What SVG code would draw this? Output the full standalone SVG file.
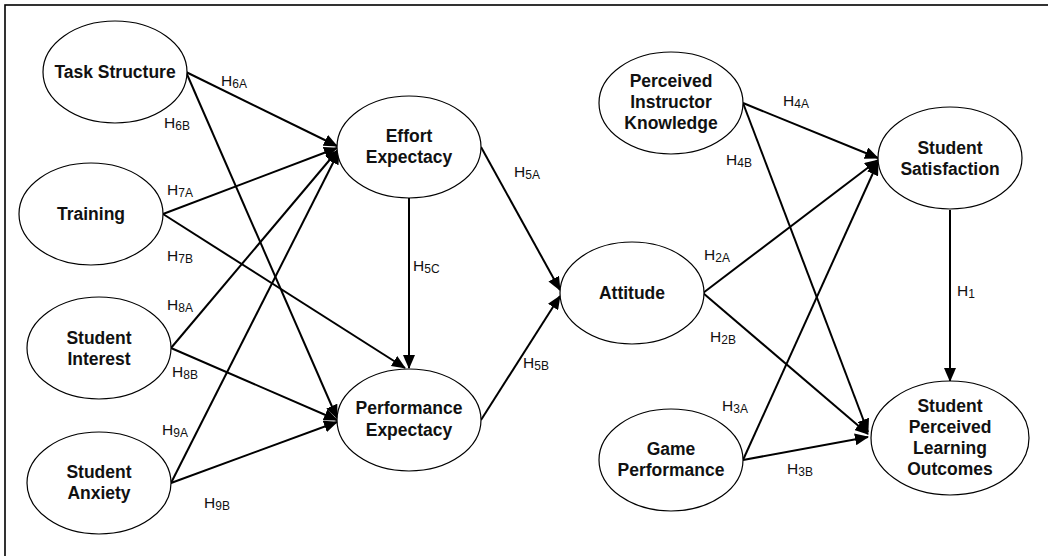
<svg xmlns="http://www.w3.org/2000/svg" width="1048" height="556" viewBox="0 0 1048 556">
<style>
.node ellipse{fill:#fff;stroke:#000;stroke-width:1.2}
.node text{font-family:"Liberation Sans",Arial,sans-serif;font-weight:bold;font-size:17.5px;text-anchor:middle;fill:#111}
.edges line{stroke:#000;stroke-width:2;marker-end:url(#arr)}
.lbl{font-family:"Liberation Sans",Arial,sans-serif;font-size:15.5px;fill:#111}
.lbl tspan.s{font-size:12px}
</style>
<defs>
<marker id="arr" markerUnits="userSpaceOnUse" markerWidth="14" markerHeight="12" viewBox="0 0 14 12" refX="13" refY="6" orient="auto">
<path d="M0,0 L14,6 L0,12 Z" fill="#000"/>
</marker>
</defs>
<rect x="5" y="5" width="1060" height="570" fill="#fff" stroke="#000" stroke-width="1.6"/>
<g class="edges">
<line x1="186" y1="72" x2="337" y2="146"/>
<line x1="186" y1="72" x2="337" y2="418"/>
<line x1="163" y1="214" x2="337" y2="148"/>
<line x1="163" y1="214" x2="405" y2="368"/>
<line x1="171" y1="348" x2="338" y2="150"/>
<line x1="171" y1="348" x2="337" y2="420"/>
<line x1="171" y1="483" x2="339" y2="151"/>
<line x1="171" y1="483" x2="337" y2="422"/>
<line x1="409" y1="198" x2="409" y2="368"/>
<line x1="481" y1="147" x2="560" y2="290"/>
<line x1="481" y1="420" x2="560" y2="296"/>
<line x1="743" y1="103" x2="878" y2="158"/>
<line x1="743" y1="103" x2="868" y2="432"/>
<line x1="703" y1="293" x2="878" y2="160"/>
<line x1="703" y1="293" x2="868" y2="434"/>
<line x1="743" y1="460" x2="878" y2="162"/>
<line x1="743" y1="460" x2="868" y2="437"/>
<line x1="950" y1="210" x2="950" y2="381"/>
</g>
<g id="task-structure" class="node"><ellipse cx="115" cy="72" rx="72" ry="51"/><text x="115" y="78">Task Structure</text></g>
<g id="training" class="node"><ellipse cx="91" cy="214" rx="72" ry="51"/><text x="91" y="220">Training</text></g>
<g id="student-interest" class="node"><ellipse cx="99" cy="348" rx="72" ry="51"/><text x="99" y="344">Student</text><text x="99" y="365">Interest</text></g>
<g id="student-anxiety" class="node"><ellipse cx="99" cy="483" rx="72" ry="51"/><text x="99" y="478">Student</text><text x="99" y="499">Anxiety</text></g>
<g id="effort-expectacy" class="node"><ellipse cx="409" cy="147" rx="72" ry="51"/><text x="409" y="142">Effort</text><text x="409" y="163">Expectacy</text></g>
<g id="performance-expectacy" class="node"><ellipse cx="409" cy="420" rx="72" ry="51"/><text x="409" y="414">Performance</text><text x="409" y="436">Expectacy</text></g>
<g id="attitude" class="node"><ellipse cx="632" cy="293" rx="72" ry="51"/><text x="632" y="299">Attitude</text></g>
<g id="perceived-instructor-knowledge" class="node"><ellipse cx="671" cy="103" rx="72" ry="51"/><text x="671" y="87">Perceived</text><text x="671" y="108">Instructor</text><text x="671" y="129">Knowledge</text></g>
<g id="student-satisfaction" class="node"><ellipse cx="950" cy="158" rx="72" ry="51"/><text x="950" y="154">Student</text><text x="950" y="175">Satisfaction</text></g>
<g id="game-performance" class="node"><ellipse cx="671" cy="460" rx="72" ry="51"/><text x="671" y="455">Game</text><text x="671" y="476">Performance</text></g>
<g id="student-perceived-learning-outcomes" class="node"><ellipse cx="950" cy="438" rx="79" ry="57"/><text x="950" y="412">Student</text><text x="950" y="433">Perceived</text><text x="950" y="454">Learning</text><text x="950" y="475">Outcomes</text></g>
<g id="labels">
<text class="lbl" x="221" y="86">H<tspan class="s" dy="2">6A</tspan></text>
<text class="lbl" x="164" y="128">H<tspan class="s" dy="2">6B</tspan></text>
<text class="lbl" x="167" y="195">H<tspan class="s" dy="2">7A</tspan></text>
<text class="lbl" x="167" y="261">H<tspan class="s" dy="2">7B</tspan></text>
<text class="lbl" x="167" y="310">H<tspan class="s" dy="2">8A</tspan></text>
<text class="lbl" x="172" y="377">H<tspan class="s" dy="2">8B</tspan></text>
<text class="lbl" x="162" y="435">H<tspan class="s" dy="2">9A</tspan></text>
<text class="lbl" x="204" y="508">H<tspan class="s" dy="2">9B</tspan></text>
<text class="lbl" x="514" y="177">H<tspan class="s" dy="2">5A</tspan></text>
<text class="lbl" x="413" y="271">H<tspan class="s" dy="2">5C</tspan></text>
<text class="lbl" x="523" y="368">H<tspan class="s" dy="2">5B</tspan></text>
<text class="lbl" x="783" y="106">H<tspan class="s" dy="2">4A</tspan></text>
<text class="lbl" x="726" y="165">H<tspan class="s" dy="2">4B</tspan></text>
<text class="lbl" x="704" y="260">H<tspan class="s" dy="2">2A</tspan></text>
<text class="lbl" x="710" y="342">H<tspan class="s" dy="2">2B</tspan></text>
<text class="lbl" x="722" y="411">H<tspan class="s" dy="2">3A</tspan></text>
<text class="lbl" x="787" y="474">H<tspan class="s" dy="2">3B</tspan></text>
<text class="lbl" x="957" y="296">H<tspan class="s" dy="2">1</tspan></text>
</g>
</svg>
